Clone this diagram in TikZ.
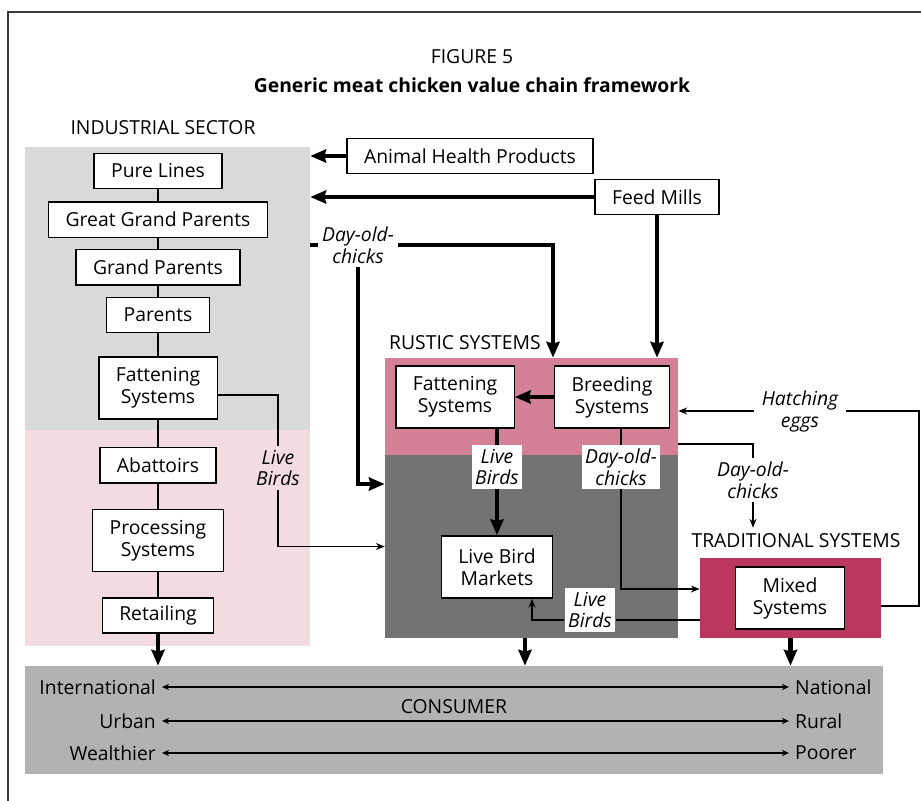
\documentclass[tikz,border=0pt]{standalone}
\usepackage{fontspec}
\setmainfont{Open Sans}
\usetikzlibrary{positioning, arrows.meta}
\definecolor{grisclair}{HTML}{D9D9D9}
\definecolor{rosepale}{HTML}{F2DCE1}
\definecolor{rose}{HTML}{D48097}
\definecolor{grisfonce}{HTML}{737373}
\definecolor{cramoisi}{HTML}{BC375D}
\definecolor{grisconso}{HTML}{B2B2B2}
\definecolor{cadre}{HTML}{3A3A3A}

\begin{document}
\begin{tikzpicture}[x=0.02cm, y=-0.02cm, font=\fontsize{11}{12.5}\selectfont]
        % Style des noeuds
        \tikzstyle{process} = [rectangle, minimum height=0.705cm, inner xsep=0.34cm, inner ysep=2pt, text centered, align=center, draw=black, line width=0.8pt, fill=white]
        \tikzstyle{process2} = [process, minimum height=1.245cm]
        \tikzstyle{zone} = [rectangle, inner sep=0pt, draw=none]
        \tikzstyle{legende} = [font=\fontsize{11}{12.5}\selectfont\itshape, align=center, inner sep=2pt]
        \tikzstyle{arrow} = [line width=2.3pt, -{Stealth[length=9pt, width=7.5pt, inset=1pt]}]
        \tikzstyle{gros} = [line width=2.3pt]
        \tikzstyle{trait} = [line width=0.7pt]
        \tikzstyle{fleche} = [line width=0.7pt, -{Stealth[length=5pt, width=4pt]}]
        \tikzstyle{echelle} = [line width=0.7pt, {Stealth[length=4pt, width=3.5pt]}-{Stealth[length=4pt, width=3.5pt]}]

        \useasboundingbox (0,0) rectangle (921,801);

        % Cadre
        \draw [cadre, line width=1pt] (8,801) -- (8,12) -- (921,12);

        % Zones
        \node (industrie) [zone, fill=grisclair, minimum width=5.7cm, minimum height=5.66cm] at (167.5,288.5) {};
        \node (aval) [zone, fill=rosepale, minimum width=5.7cm, minimum height=4.32cm] at (167.5,538) {};
        \node (rustique) [zone, fill=rose, minimum width=5.86cm, minimum height=1.94cm] at (531.5,406.5) {};
        \node (marche) [zone, fill=grisfonce, minimum width=5.86cm, minimum height=3.66cm] at (531.5,546.5) {};
        \node (mixte) [zone, fill=cramoisi, minimum width=3.62cm, minimum height=1.6cm] at (790.5,598) {};
        \node (conso) [zone, fill=grisconso, minimum width=17.16cm, minimum height=2.16cm] at (454,720) {};

        % Titres
        \node (figure) at (472,57) {FIGURE 5};
        \node (titre) at (472,85) {\bfseries Generic meat chicken value chain framework};
        \node (secteur) at (163,128) {INDUSTRIAL SECTOR};
        \node (rustic) [anchor=west] at (383,343) {RUSTIC SYSTEMS};
        \node (traditionnel) at (796,541) {TRADITIONAL SYSTEMS};

        % Secteur industriel
        \node (purelines) [process] at (158,171) {Pure Lines};
        \node (ggp) [process, below=0.24cm of purelines] {Great Grand Parents};
        \node (gp) [process, below=0.22cm of ggp] {Grand Parents};
        \node (parents) [process, below=0.22cm of gp] {Parents};
        \node (engrais) [process2, below=0.46cm of parents] {Fattening\\Systems};
        \node (abattoirs) [process, below=0.54cm of engrais] {Abattoirs};
        \node (transfo) [process2, below=0.5cm of abattoirs] {Processing\\Systems};
        \node (detail) [process, below=0.5cm of transfo] {Retailing};

        % Fournisseurs
        \node (sante) [process] at (470,156) {Animal Health Products};
        \node (aliment) [process] at (657,197) {Feed Mills};

        % Systemes rustiques et traditionnels
        \node (rengrais) [process2] at (455,397) {Fattening\\Systems};
        \node (reproduction) [process2] at (612,397) {Breeding\\Systems};
        \node (lbm) [process2] at (497,567) {Live Bird\\Markets};
        \node (mixed) [process2] at (790,598) {Mixed\\Systems};

        % Legendes des fleches
        \node (poussins1) [legende, fill=white] at (358,245) {Day-old-\\chicks};
        \node (vivants1) [legende, fill=rosepale] at (278,468) {Live\\Birds};
        \node (vivants2) [legende, fill=white] at (497,467) {Live\\Birds};
        \node (poussins2) [legende, fill=white] at (621,467) {Day-old-\\chicks};
        \node (poussins3) [legende] at (753,480) {Day-old-\\chicks};
        \node (oeufs) [legende, inner xsep=4pt] at (800,411) {Hatching\\eggs};
        \node (vivants3) [legende, fill=white] at (590,610) {Live\\Birds};

        % Consommateur
        \node (consommateur) at (454,707) {CONSUMER};
        \node (intl) [anchor=east] at (162,687) {International};
        \node (natl) [anchor=west] at (789,687) {National};
        \node (urbain) [anchor=east] at (162,721) {Urban};
        \node (rural) [anchor=west] at (789,721) {Rural};
        \node (riche) [anchor=east] at (162,753) {Wealthier};
        \node (pauvre) [anchor=west] at (789,753) {Poorer};

        % Flèches
        \draw [trait] (purelines) -- (ggp);
        \draw [trait] (ggp) -- (gp);
        \draw [trait] (gp) -- (parents);
        \draw [trait] (parents) -- (engrais);
        \draw [trait] (engrais) -- (abattoirs);
        \draw [trait] (abattoirs) -- (transfo);
        \draw [trait] (transfo) -- (detail);
        \draw [arrow] (detail) -- (detail |- conso.north);

        \draw [arrow] (sante) -- (sante -| industrie.east);
        \draw [arrow] (aliment) -- (aliment -| industrie.east);
        \draw [arrow] (aliment) -- (aliment |- rustique.north);

        \draw [gros] (poussins1 -| industrie.east) -- (poussins1.west);
        \draw [arrow] (poussins1.east) -| ([xshift=0.43cm]rustique.north);
        \draw [arrow] (poussins1.south) |- ([yshift=1.25cm]marche.west);

        \draw [trait] ([yshift=-0.14cm]engrais.east) -| (vivants1.north);
        \draw [fleche] (vivants1.south) |- (marche.west);

        \draw [arrow] (reproduction) -- (rengrais);
        \draw [gros] (rengrais.south -| vivants2) -- (vivants2.north);
        \draw [arrow] (vivants2.south) -- (lbm.north);
        \draw [trait] (reproduction.south -| poussins2) -- (poussins2.north);
        \draw [fleche] (poussins2.south) |- ([yshift=0.18cm]mixte.west);
        \draw [trait] ([yshift=-0.75cm]rustique.east) -| (poussins3.north);
        \draw [fleche] (poussins3.south) -- (poussins3.south |- traditionnel.north);

        \coordinate (boucle) at (919,411);
        \draw [trait] ([yshift=-0.16cm]mixte.east) -| (boucle) -- (oeufs.east);
        \draw [fleche] (oeufs.west) -- (oeufs.west -| rustique.east);

        \coordinate (depart) at ([yshift=-0.44cm]mixte.west);
        \draw [trait] (depart) -- (depart -| vivants3.east);
        \draw [fleche] (depart -| vivants3.west) -| ([xshift=0.7cm]lbm.south);

        \draw [arrow] ([xshift=-0.13cm]marche.south) -- ([xshift=-0.13cm]marche.south |- conso.north);
        \draw [arrow] (mixte.south) -- (mixte.south |- conso.north);

        \draw [echelle] (intl) -- (natl);
        \draw [echelle] (urbain) -- (rural);
        \draw [echelle] (riche) -- (pauvre);
    \end{tikzpicture}
\end{document}
